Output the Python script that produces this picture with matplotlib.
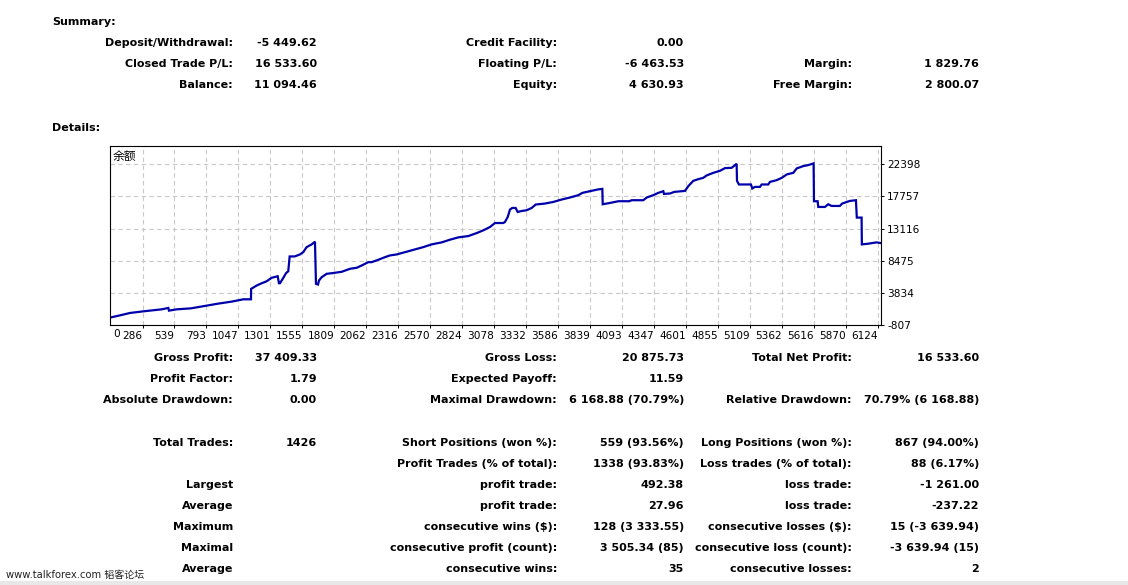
import matplotlib
matplotlib.use("Agg")
import matplotlib.pyplot as plt
from matplotlib.patches import Rectangle

W, H = 1128, 585

# balance curve
trades = [36, 107, 187, 292, 438, 491, 496, 557, 671, 782, 888, 994, 1086, 1147,
          1148, 1192, 1232, 1272, 1311, 1359, 1369, 1377, 1404, 1425, 1443, 1454,
          1494, 1536, 1562, 1589, 1629, 1655, 1663, 1679, 1687, 1708, 1748, 1788,
          1867, 1933, 1986, 2026, 2078, 2105, 2158, 2211, 2250, 2304, 2370, 2449,
          2515, 2581, 2661, 2727, 2793, 2872, 2939, 2991, 3044, 3084, 3150, 3163,
          3185, 3203, 3221, 3248, 3264, 3296, 3335, 3375, 3407, 3481, 3547, 3613,
          3679, 3745, 3777, 3851, 3899, 3936, 3939, 3997, 4063, 4150, 4169, 4261,
          4288, 4340, 4380, 4420, 4425, 4473, 4507, 4592, 4618, 4658, 4698, 4737,
          4764, 4817, 4870, 4910, 4963, 5002, 5005, 5020, 5116, 5126, 5148, 5187,
          5201, 5253, 5267, 5320, 5360, 5400, 5452, 5479, 5531, 5571, 5613, 5616,
          5645, 5650, 5703, 5729, 5755, 5821, 5840, 5901, 5949, 5956, 5994, 5996,
          6046, 6113, 6148]
balance = [295, 585, 933, 1165, 1455, 1658, 1267, 1455, 1600, 1948, 2282, 2572, 2905, 2905,
           4413, 4892, 5225, 5515, 6008, 6240, 5225, 5225, 6008, 6675, 6965, 9097,
           9097, 9387, 9720, 10445, 10837, 11228, 5138, 5040, 5617, 6095, 6588, 6675,
           6878, 7313, 7458, 7792, 8270, 8270, 8618, 8995, 9242, 9387, 9720, 10112,
           10445, 10837, 11127, 11518, 11852, 12040, 12475, 12867, 13345, 13925, 13925, 14070,
           14795, 15868, 16100, 16100, 15520, 15665, 15767, 16100, 16593, 16738, 16970, 17318,
           17608, 17942, 18275, 18565, 18768, 18855, 16637, 16825, 17072, 17072, 17217, 17217,
           17608, 17942, 18275, 18522, 18130, 18188, 18420, 18565, 19247, 20015, 20262, 20450,
           20798, 21175, 21465, 21857, 21900, 22480, 20015, 19493, 19493, 18913, 19145, 19145,
           19493, 19493, 19870, 20117, 20450, 20943, 21175, 21813, 22147, 22292, 22538, 17072,
           17072, 16245, 16245, 16637, 16390, 16390, 16738, 17115, 17217, 14708, 14708, 10837,
           10938, 11127, 11025]

x_tick_labels = ["286", "539", "793", "1047", "1301", "1555", "1809", "2062", "2316",
                 "2570", "2824", "3078", "3332", "3586", "3839", "4093", "4347", "4601",
                 "4855", "5109", "5362", "5616", "5870", "6124"]
y_tick_values = [-807, 3834, 8475, 13116, 17757, 22398]

summary_col1_labels = ["Deposit/Withdrawal:", "Closed Trade P/L:", "Balance:"]
summary_col1_values = ["-5 449.62", "16 533.60", "11 094.46"]
summary_col2_labels = ["Credit Facility:", "Floating P/L:", "Equity:"]
summary_col2_values = ["0.00", "-6 463.53", "4 630.93"]
summary_col3_labels = ["", "Margin:", "Free Margin:"]
summary_col3_values = ["", "1 829.76", "2 800.07"]

details_col1_labels = ["Gross Profit:", "Profit Factor:", "Absolute Drawdown:", "Total Trades:", "",
                       "Largest", "Average", "Maximum", "Maximal", "Average"]
details_col1_values = ["37 409.33", "1.79", "0.00", "1426", "", "", "", "", "", ""]
details_col2_labels = ["Gross Loss:", "Expected Payoff:", "Maximal Drawdown:",
                       "Short Positions (won %):", "Profit Trades (% of total):",
                       "profit trade:", "profit trade:", "consecutive wins ($):",
                       "consecutive profit (count):", "consecutive wins:"]
details_col2_values = ["20 875.73", "11.59", "6 168.88 (70.79%)", "559 (93.56%)",
                       "1338 (93.83%)", "492.38", "27.96", "128 (3 333.55)",
                       "3 505.34 (85)", "35"]
details_col3_labels = ["Total Net Profit:", "", "Relative Drawdown:", "Long Positions (won %):",
                       "Loss trades (% of total):", "loss trade:", "loss trade:",
                       "consecutive losses ($):", "consecutive loss (count):",
                       "consecutive losses:"]
details_col3_values = ["16 533.60", "", "70.79% (6 168.88)", "867 (94.00%)", "88 (6.17%)",
                       "-1 261.00", "-237.22", "15 (-3 639.94)", "-3 639.94 (15)", "2"]


def fx(x):
    return x / W


def fy(y):
    return 1 - y / H


fig = plt.figure(figsize=(W / 100, H / 100), dpi=100)
fig.patch.set_facecolor("white")

bold = dict(fontsize=8, fontweight="bold", family="DejaVu Sans", color="black")

# cabecalhos
fig.text(fx(52), fy(22), "Summary:", ha="left", va="center", **bold)
fig.text(fx(52), fy(128), "Details:", ha="left", va="center", **bold)

# colunas: (x rotulo, x valor)
cols = [(233, 317), (557, 684), (852, 979)]

summary_y = [43, 64, 85]
summary = [(summary_col1_labels, summary_col1_values),
           (summary_col2_labels, summary_col2_values),
           (summary_col3_labels, summary_col3_values)]
for (xl, xv), (labels, values) in zip(cols, summary):
    for y, lab, val in zip(summary_y, labels, values):
        fig.text(fx(xl), fy(y), lab, ha="right", va="center", **bold)
        fig.text(fx(xv), fy(y), val, ha="right", va="center", **bold)

details_y = [358, 379, 400, 443, 464, 485, 506, 527, 548, 569]
details = [(details_col1_labels, details_col1_values),
           (details_col2_labels, details_col2_values),
           (details_col3_labels, details_col3_values)]
for (xl, xv), (labels, values) in zip(cols, details):
    for y, lab, val in zip(details_y, labels, values):
        fig.text(fx(xl), fy(y), lab, ha="right", va="center", **bold)
        fig.text(fx(xv), fy(y), val, ha="right", va="center", **bold)

# grafico do saldo
ax = fig.add_axes([fx(110), fy(325), (881 - 110) / W, (325 - 146) / H])
ax.plot(trades, balance, color="#0000AA", lw=1.6, solid_joinstyle="miter")
ax.set_xlim(28, 6148)
ax.set_ylim(-807, 25050)
ax.set_xticks([int(v) for v in x_tick_labels])
ax.set_xticklabels(x_tick_labels, fontsize=7.6, ha="right")
ax.set_yticks(y_tick_values)
ax.set_yticklabels([str(v) for v in y_tick_values], fontsize=7.6)
ax.yaxis.tick_right()
ax.tick_params(axis="both", length=2.5, width=0.7, pad=2, colors="black")
ax.tick_params(axis="x", pad=2)
ax.grid(True, color="#C8C8C8", linestyle=(0, (4, 3)), lw=0.8)
for s in ax.spines.values():
    s.set_linewidth(0.8)
    s.set_color("black")
ax.text(0.004, -0.02, "0", transform=ax.transAxes, ha="left", va="top", fontsize=7.6)
ax.text(0.004, 0.94, "余额", transform=ax.transAxes, ha="left", va="center",
        fontsize=8.5, family=["Noto Sans CJK SC", "DejaVu Sans"])

# rodape
fig.patches.append(Rectangle((0, 0), 1, 4 / H, transform=fig.transFigure,
                             facecolor="#E8E8E8", edgecolor="none"))
fig.text(fx(6), fy(575), "www.talkforex.com 韬客论坛", ha="left", va="center",
         fontsize=7.2, family=["DejaVu Sans", "Noto Sans CJK SC"], color="#222222")

plt.savefig("out.png", dpi=100)
